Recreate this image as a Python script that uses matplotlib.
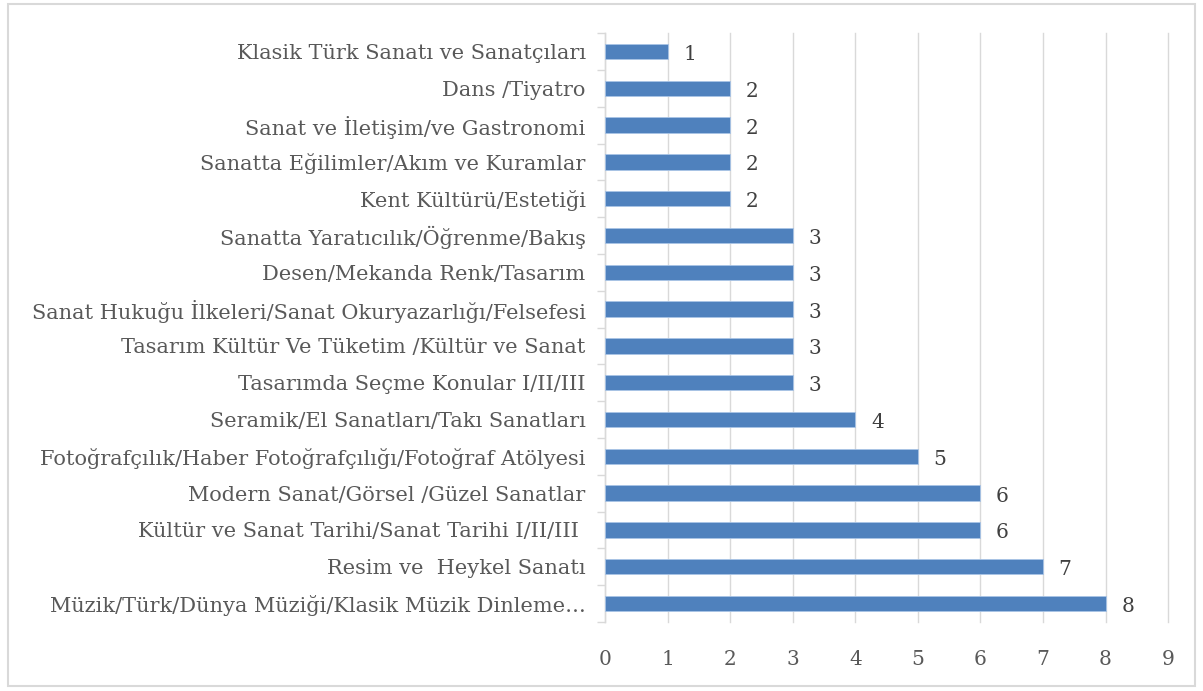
import matplotlib.pyplot as plt
import matplotlib.patches as patches
import numpy as np

categories = [
    "Klasik Türk Sanatı ve Sanatçıları",
    "Dans /Tiyatro",
    "Sanat ve İletişim/ve Gastronomi",
    "Sanatta Eğilimler/Akım ve Kuramlar",
    "Kent Kültürü/Estetiği",
    "Sanatta Yaratıcılık/Öğrenme/Bakış",
    "Desen/Mekanda Renk/Tasarım",
    "Sanat Hukuğu İlkeleri/Sanat Okuryazarlığı/Felsefesi",
    "Tasarım Kültür Ve Tüketim /Kültür ve Sanat",
    "Tasarımda Seçme Konular I/II/III",
    "Seramik/El Sanatları/Takı Sanatları",
    "Fotoğrafçılık/Haber Fotoğrafçılığı/Fotoğraf Atölyesi",
    "Modern Sanat/Görsel /Güzel Sanatlar",
    "Kültür ve Sanat Tarihi/Sanat Tarihi I/II/III ",
    "Resim ve  Heykel Sanatı",
    "Müzik/Türk/Dünya Müziği/Klasik Müzik Dinleme…",
]
values = [1, 2, 2, 2, 2, 3, 3, 3, 3, 3, 4, 5, 6, 6, 7, 8]
xticks = list(range(0, 10))

txt = "#595959"
plt.rcParams['font.family'] = ['DejaVu Serif']

fig = plt.figure(figsize=(12.03, 6.91), dpi=100)
fig.patches.append(patches.Rectangle((0.007, 0.007), 0.986, 0.987, transform=fig.transFigure,
                                     fill=False, edgecolor="#d9d9d9", linewidth=1.5))
ax = fig.add_axes([0.503, 0.100, 0.468, 0.852])

y = np.arange(len(categories))
ax.barh(y, values, height=0.42, color="#4f81bd", edgecolor="#a9c4e6", linewidth=0.6, zorder=3)
for yi, v in zip(y, values):
    ax.text(v + 0.25, yi + 0.08, str(v), va="center", ha="left", fontsize=14.5, color="#404040")

ax.set_xlim(0, 9)
ax.set_ylim(len(categories) - 0.5, -0.5)
ax.set_xticks(xticks)
ax.set_xticklabels([str(t) for t in xticks], fontsize=14.5, color=txt)
ax.set_yticks(y)
ax.set_yticklabels(categories, fontsize=15, color=txt)
ax.set_yticks(np.arange(-0.5, len(categories), 1), minor=True)
ax.tick_params(axis="y", which="major", length=0, pad=14)
ax.tick_params(axis="y", which="minor", length=6, color="#d9d9d9", width=1)
ax.tick_params(axis="x", length=0, pad=20)
ax.grid(axis="x", color="#d9d9d9", linewidth=1, zorder=0)
for gl in ax.get_xgridlines():
    gl.set_clip_on(False)
for s in ["top", "right", "bottom"]:
    ax.spines[s].set_visible(False)
ax.spines["left"].set_color("#d9d9d9")
ax.spines["left"].set_linewidth(1)

fig.savefig("out.png", dpi=100)
